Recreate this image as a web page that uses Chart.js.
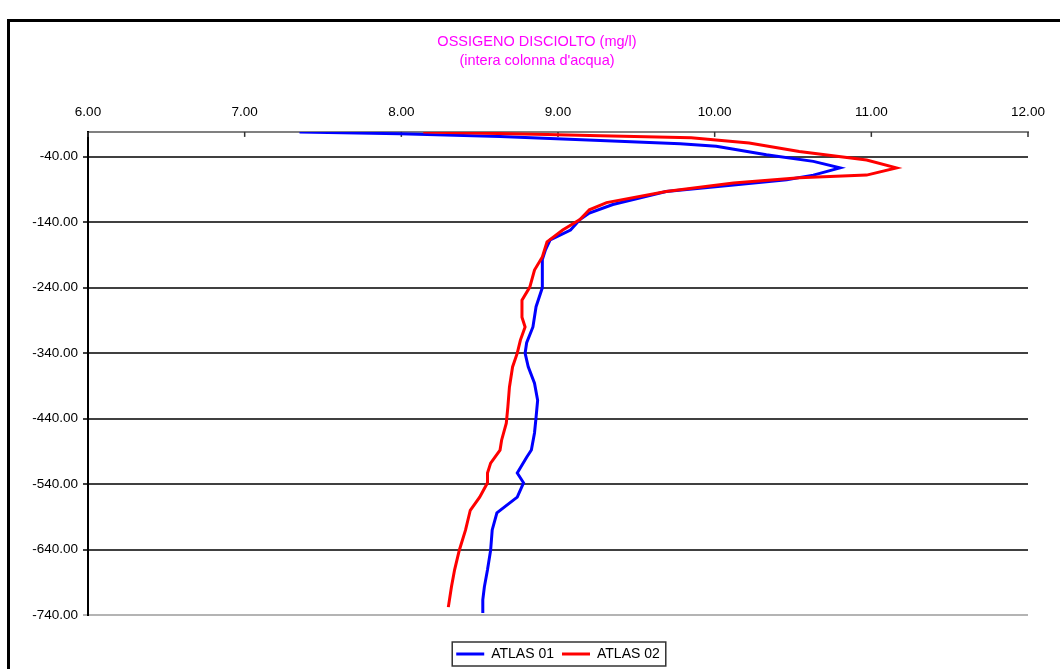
<!DOCTYPE html>
<html>
<head>
<meta charset="utf-8">
<script src="https://cdn.jsdelivr.net/npm/chart.js@4.4.0/dist/chart.umd.min.js"></script>
<style>
html,body{margin:0;padding:0;background:#fff;overflow:hidden;}
#wrap{position:relative;width:1060px;height:669px;overflow:hidden;}
#frame{position:absolute;left:7px;top:19px;width:1100px;height:700px;border:3px solid #000;pointer-events:none;}
canvas{position:absolute;left:0;top:0;}
</style>
</head>
<body>
<div id="wrap"><canvas id="c" width="1060" height="669"></canvas><div id="frame"></div></div>
<script>
// ---- data ----
const titleLines = ['OSSIGENO DISCIOLTO (mg/l)', "(intera colonna d'acqua)"];
const seriesNames = ['ATLAS 01', 'ATLAS 02'];
const xTickValues = [6, 7, 8, 9, 10, 11, 12];
const yTickValues = [-740, -640, -540, -440, -340, -240, -140, -40];

const depth01 = [-2, -5, -9, -15, -20, -24, -37, -47, -57, -68, -75, -83, -93, -113, -126, -136, -152, -167, -182, -197, -208, -240, -269, -300, -324, -340, -361, -386, -412, -438, -462, -488, -499, -523, -538, -560, -584, -610, -641, -671, -697, -717, -737];
const oxygen01 = [7.35, 7.99, 8.63, 9.27, 9.78, 10.01, 10.33, 10.63, 10.80, 10.63, 10.46, 10.12, 9.69, 9.35, 9.20, 9.14, 9.08, 8.95, 8.92, 8.90, 8.90, 8.90, 8.86, 8.84, 8.80, 8.79, 8.81, 8.85, 8.87, 8.86, 8.85, 8.83, 8.80, 8.74, 8.78, 8.74, 8.61, 8.58, 8.57, 8.55, 8.53, 8.52, 8.52];

const depth02 = [-2, -6, -8, -11, -19, -32, -45, -57, -68, -72, -80, -93, -110, -121, -136, -152, -170, -193, -213, -239, -259, -285, -300, -320, -340, -361, -392, -422, -447, -473, -488, -508, -523, -538, -560, -580, -610, -641, -671, -697, -728];
const oxygen02 = [8.14, 8.93, 9.27, 9.85, 10.22, 10.54, 10.97, 11.16, 10.97, 10.54, 10.12, 9.69, 9.31, 9.20, 9.14, 9.03, 8.93, 8.90, 8.85, 8.82, 8.77, 8.77, 8.79, 8.76, 8.74, 8.71, 8.69, 8.68, 8.67, 8.64, 8.63, 8.57, 8.55, 8.55, 8.50, 8.44, 8.41, 8.37, 8.34, 8.32, 8.30];

// ---- chart ----
const FONT = "'Liberation Sans', Arial, Helvetica, sans-serif";
const toPoints = (xs, ys) => xs.map((v, i) => ({x: v, y: ys[i]}));

const legendShift = {x: 44, y: 24};
const titleShiftX = 23;

const boxMove = {
  id: 'boxMove',
  afterLayout(chart) {
    const lg = chart.legend;
    if (lg) {
      lg.left += legendShift.x; lg.right += legendShift.x;
      lg.top += legendShift.y; lg.bottom += legendShift.y;
    }
    const tt = chart.titleBlock;
    if (tt) { tt.left += titleShiftX; tt.right += titleShiftX; }
  }
};

const legendBorder = {
  id: 'legendBorder',
  afterDraw(chart) {
    const lg = chart.legend;
    if (!lg || !lg.legendHitBoxes || !lg.legendHitBoxes.length) return;
    const hb = lg.legendHitBoxes;
    let l = Infinity, r = -Infinity, t = Infinity, b = -Infinity;
    hb.forEach(h => { l = Math.min(l, h.left); r = Math.max(r, h.left + h.width); t = Math.min(t, h.top); b = Math.max(b, h.top + h.height); });
    const ctx = chart.ctx;
    ctx.save();
    ctx.strokeStyle = '#333';
    ctx.lineWidth = 1.5;
    ctx.strokeRect(l - 4, t - 5, (r - l) + 10, (b - t) + 10);
    ctx.restore();
  }
};

const innerTicks = {
  id: 'innerTicks',
  beforeDatasetsDraw(chart) {
    const xs = chart.scales.x, ca = chart.chartArea, ctx = chart.ctx;
    ctx.save();
    ctx.strokeStyle = '#333';
    ctx.lineWidth = 1.5;
    xs.ticks.forEach(t => {
      const px = xs.getPixelForValue(t.value);
      ctx.beginPath();
      ctx.moveTo(px, ca.top);
      ctx.lineTo(px, ca.top + 5);
      ctx.stroke();
    });
    ctx.restore();
  }
};

new Chart(document.getElementById('c'), {
  type: 'scatter',
  data: {
    datasets: [
      {label: seriesNames[0], data: toPoints(oxygen01, depth01), showLine: true, borderColor: '#0000ff', backgroundColor: '#0000ff', borderWidth: 3, pointRadius: 0, tension: 0, order: 2},
      {label: seriesNames[1], data: toPoints(oxygen02, depth02), showLine: true, borderColor: '#ff0000', backgroundColor: '#ff0000', borderWidth: 3, pointRadius: 0, tension: 0, order: 1}
    ]
  },
  options: {
    responsive: false,
    animation: false,
    layout: {padding: {top: 33, left: 0, right: 32, bottom: 22}},
    plugins: {
      tooltip: {enabled: false},
      title: {
        display: true,
        text: titleLines,
        color: '#ff00ff',
        font: {family: FONT, size: 14.5, weight: 'normal', lineHeight: 1.3},
        padding: {top: 0, bottom: 21}
      },
      legend: {
        position: 'bottom',
        labels: {
          sort: (a, b) => a.datasetIndex - b.datasetIndex,
          usePointStyle: true,
          pointStyle: 'line',
          pointStyleWidth: 28,
          color: '#000',
          padding: 8,
          font: {family: FONT, size: 14}
        }
      }
    },
    scales: {
      x: {
        type: 'linear',
        position: 'top',
        min: 6, max: 12,
        afterBuildTicks: s => { s.ticks = xTickValues.map(v => ({value: v})); },
        ticks: {callback: v => Number(v).toFixed(2), color: '#000', padding: 12, maxRotation: 0, font: {family: FONT, size: 13.5}},
        grid: {display: false, drawTicks: false},
        border: {display: true, color: '#808080', width: 2}
      },
      y: {
        type: 'linear',
        min: -740, max: -2,
        afterBuildTicks: s => { s.ticks = yTickValues.map(v => ({value: v})); },
        afterFit: s => { s.width = 88; },
        ticks: {callback: v => Number(v).toFixed(2), color: '#000', padding: 5, font: {family: FONT, size: 13.5}},
        grid: {
          color: c => (c.tick && c.tick.value === -740) ? '#b4b4b4' : '#404040',
          lineWidth: 2,
          drawTicks: true,
          tickLength: 5
        },
        border: {display: true, color: '#000', width: 2}
      }
    }
  },
  plugins: [boxMove, legendBorder, innerTicks]
});
</script>
</body>
</html>
